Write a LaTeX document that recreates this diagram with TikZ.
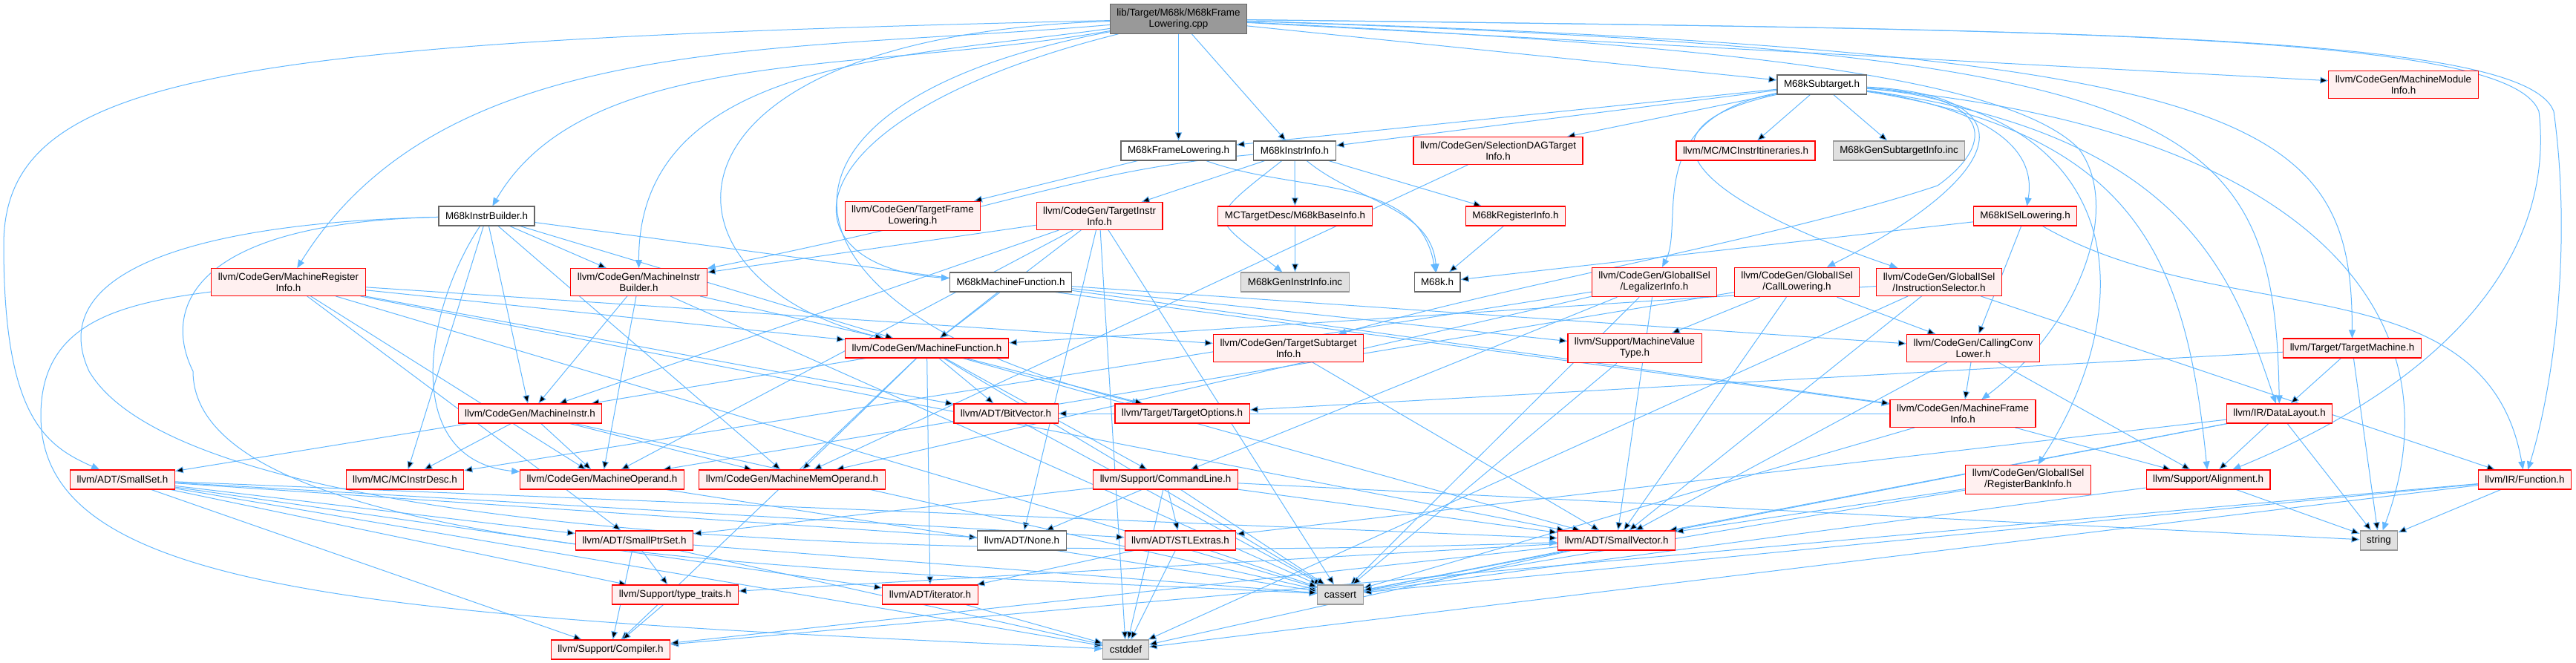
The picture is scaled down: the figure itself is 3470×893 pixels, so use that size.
\documentclass[tikz,border=0pt]{standalone}
\usepackage{fontspec}
\setsansfont{Liberation Sans}
\usetikzlibrary{arrows.meta,backgrounds}

\definecolor{edgeblue}{HTML}{63B8FF}
\definecolor{redfill}{HTML}{FFF0F0}
\definecolor{boxgray}{HTML}{666666}
\definecolor{incgray}{HTML}{999999}
\definecolor{incfill}{HTML}{E0E0E0}

\begin{document}
\begin{tikzpicture}[
    x=1pt, y=1pt,
    font=\sffamily\fontsize{13.4}{15}\selectfont,
    dep/.style={-{Triangle[length=11pt,width=9pt]}, line width=1pt, draw=edgeblue},
    filebox/.style={line width=1.1pt, align=center, inner xsep=9pt, inner ysep=6pt, minimum height=26pt},
    redbox/.style={filebox, draw=red, fill=redfill},
    whitebox/.style={filebox, draw=boxgray, fill=white},
    incbox/.style={filebox, draw=incgray, fill=incfill},
    rootbox/.style={filebox, draw=boxgray, fill=incgray}
]
\useasboundingbox (0,0) rectangle (3470,-893);

\node[rootbox] (root) at (1587.5,-25.5) {lib/Target/M68k/M68kFrame\\Lowering.cpp};

\node[whitebox] (subtarget) at (2454,-114) {M68kSubtarget.h};
\node[redbox] (mmInfo) at (3237.5,-114) {llvm/CodeGen/MachineModule\\Info.h};

\node[whitebox] (frameH) at (1587.5,-203) {M68kFrameLowering.h};
\node[whitebox] (instrInfo) at (1744,-203) {M68kInstrInfo.h};
\node[redbox] (sdagInfo) at (2018,-203) {llvm/CodeGen/SelectionDAGTarget\\Info.h};
\node[redbox] (itin) at (2351.5,-203) {llvm/MC/MCInstrItineraries.h};
\node[incbox] (genSub) at (2558,-203) {M68kGenSubtargetInfo.inc};

\node[whitebox] (instrBuilder) at (655.5,-291) {M68kInstrBuilder.h};
\node[redbox] (tFrameLow) at (1229.5,-291) {llvm/CodeGen/TargetFrame\\Lowering.h};
\node[redbox] (tInstrInfo) at (1481,-291) {llvm/CodeGen/TargetInstr\\Info.h};
\node[redbox] (baseInfo) at (1744.5,-291) {MCTargetDesc/M68kBaseInfo.h};
\node[redbox] (regInfo) at (2041.5,-291) {M68kRegisterInfo.h};
\node[redbox] (iselLow) at (2728,-291) {M68kISelLowering.h};

\node[redbox] (mRegInfo) at (388.5,-380) {llvm/CodeGen/MachineRegister\\Info.h};
\node[redbox] (miBuilder) at (860.5,-380) {llvm/CodeGen/MachineInstr\\Builder.h};
\node[whitebox] (m68kMF) at (1361.5,-380) {M68kMachineFunction.h};
\node[incbox] (genInstr) at (1744.5,-380) {M68kGenInstrInfo.inc};
\node[whitebox] (m68kH) at (1936,-380) {M68k.h};
\node[redbox] (legalizer) at (2228.5,-380) {llvm/CodeGen/GlobalISel\\/LegalizerInfo.h};
\node[redbox] (callLow) at (2420.5,-380) {llvm/CodeGen/GlobalISel\\/CallLowering.h};
\node[redbox] (instSel) at (2612,-380) {llvm/CodeGen/GlobalISel\\/InstructionSelector.h};

\node[redbox] (mFunction) at (1248.5,-469) {llvm/CodeGen/MachineFunction.h};
\node[redbox] (tSubtarget) at (1735.5,-469) {llvm/CodeGen/TargetSubtarget\\Info.h};
\node[redbox] (mvt) at (2202,-469) {llvm/Support/MachineValue\\Type.h};
\node[redbox] (ccLower) at (2658,-469) {llvm/CodeGen/CallingConv\\Lower.h};
\node[redbox] (tMachine) at (3168.5,-469) {llvm/Target/TargetMachine.h};

\node[redbox] (mInstr) at (714,-557) {llvm/CodeGen/MachineInstr.h};
\node[redbox] (bitVector) at (1355,-557) {llvm/ADT/BitVector.h};
\node[redbox] (tOptions) at (1592.5,-557) {llvm/Target/TargetOptions.h};
\node[redbox] (mFrameInfo) at (2644,-557) {llvm/CodeGen/MachineFrame\\Info.h};
\node[redbox] (dataLayout) at (3070.5,-557) {llvm/IR/DataLayout.h};

\node[redbox] (smallSet) at (165,-646) {llvm/ADT/SmallSet.h};
\node[redbox] (mcDesc) at (545.5,-646) {llvm/MC/MCInstrDesc.h};
\node[redbox] (mOperand) at (811,-646) {llvm/CodeGen/MachineOperand.h};
\node[redbox] (mMemOp) at (1067,-646) {llvm/CodeGen/MachineMemOperand.h};
\node[redbox] (cmdLine) at (1570,-646) {llvm/Support/CommandLine.h};
\node[redbox] (regBank) at (2732,-646) {llvm/CodeGen/GlobalISel\\/RegisterBankInfo.h};
\node[redbox] (alignment) at (2974.5,-646) {llvm/Support/Alignment.h};
\node[redbox] (function) at (3401,-646) {llvm/IR/Function.h};

\node[redbox] (smallPtrSet) at (854.5,-728) {llvm/ADT/SmallPtrSet.h};
\node[whitebox] (none) at (1376.5,-728) {llvm/ADT/None.h};
\node[redbox] (stlExtras) at (1590,-728) {llvm/ADT/STLExtras.h};
\node[redbox] (smallVector) at (2177.5,-728) {llvm/ADT/SmallVector.h};
\node[incbox] (string) at (3204.5,-728) {string};

\node[redbox] (typeTraits) at (909.5,-801) {llvm/Support/type\_traits.h};
\node[redbox] (iterator) at (1253,-801) {llvm/ADT/iterator.h};
\node[incbox] (cassert) at (1805.5,-801) {cassert};

\node[redbox] (compiler) at (822.5,-875) {llvm/Support/Compiler.h};
\node[incbox] (cstddef) at (1516.5,-875) {cstddef};

\begin{pgfonlayer}{background}
\draw[dep] (root) edge (frameH) edge (instrInfo) edge (subtarget) edge (mmInfo);
\draw[dep] (root) .. controls (1160,-100) and (790,-60) .. (instrBuilder);
\draw[dep] (root) .. controls (1050,-72) and (600,-40) .. (mRegInfo);
\draw[dep] (root) .. controls (1220,-77) and (860,-80) .. (miBuilder);
\draw[dep] (root) .. controls (1050,-160) and (1050,-360) .. (m68kMF);
\draw[dep] (root) .. controls (300,-55) and (5,-100) .. (5,-330) .. controls (5,-560) and (60,-600) .. (smallSet);
\draw[dep] (root) .. controls (850,-50) and (870,-380) .. (mFunction);
\draw[dep] (root) .. controls (980,-140) and (1020,-420) .. (tOptions);
\draw[dep] (root) .. controls (2300,-60) and (2700,-100) .. (2800,-200) .. controls (2860,-280) and (2800,-440) .. (mFrameInfo);
\draw[dep] (root) .. controls (2950,-70) and (3064,-150) .. (dataLayout);
\draw[dep] (root) .. controls (3050,-70) and (3168,-160) .. (tMachine);
\draw[dep] (root) .. controls (2800,-40) and (3400,-45) .. (3440,-150) .. controls (3465,-330) and (3440,-520) .. (function);
\draw[dep] (root) .. controls (2800,-40) and (3380,-45) .. (3420,-150) .. controls (3440,-320) and (3330,-500) .. (alignment);

\draw[dep] (subtarget) edge (frameH) edge (instrInfo) edge (sdagInfo) edge (itin) edge (genSub);
\draw[dep] (subtarget) .. controls (2617,-137) and (2748,-175) .. (iselLow);
\draw[dep] (subtarget) .. controls (2210,-160) and (2270,-300) .. (legalizer);
\draw[dep] (subtarget) .. controls (2200,-170) and (2260,-260) .. (instSel);
\draw[dep] (subtarget) .. controls (2760,-130) and (2680,-250) .. (callLow);
\draw[dep] (subtarget) .. controls (2700,-130) and (2680,-200) .. (2610,-250) .. controls (2400,-320) and (2050,-380) .. (tSubtarget);
\draw[dep] (subtarget) .. controls (2880,-150) and (2880,-420) .. (regBank);
\draw[dep] (subtarget) .. controls (2950,-180) and (3010,-380) .. (dataLayout);
\draw[dep] (subtarget) .. controls (2880,-180) and (2945,-350) .. (alignment);
\draw[dep] (subtarget) .. controls (3100,-170) and (3320,-420) .. (string);

\draw[dep] (frameH) edge (tFrameLow);
\draw[dep] (frameH) .. controls (1750,-262) and (1910,-234) .. (m68kH);
\draw[dep] (instrInfo) edge (baseInfo) edge (regInfo) edge (tInstrInfo);
\draw[dep] (instrInfo) .. controls (1827,-272) and (1928,-279) .. (m68kH);
\draw[dep] (instrInfo) .. controls (1620,-300) and (1630,-290) .. (genInstr);
\draw[dep] (instrInfo) .. controls (1450,-230) and (1360,-280) .. (miBuilder);
\draw[dep] (baseInfo) edge (genInstr);
\draw[dep] (regInfo) edge (m68kH);
\draw[dep] (iselLow) edge (m68kH) edge (ccLower);
\draw[dep] (iselLow) .. controls (2997,-446) and (3349,-352) .. (function);

\draw[dep] (instrBuilder) edge (miBuilder) edge (mInstr) edge (mcDesc) edge (mMemOp) edge (mFunction) edge (mFrameInfo);
\draw[dep] (instrBuilder) .. controls (570,-420) and (540,-620) .. (mOperand);
\draw[dep] (instrBuilder) .. controls (250,-300) and (60,-370) .. (120,-500) .. controls (250,-720) and (1200,-760) .. (smallVector);
\draw[dep] (instrBuilder) .. controls (250,-300) and (220,-420) .. (260,-500) .. controls (260,-760) and (1200,-770) .. (cassert);

\draw[dep] (mRegInfo) edge (bitVector) edge (smallPtrSet) edge (smallVector) edge (mFunction) edge (mOperand) edge (tSubtarget) edge (cassert);
\draw[dep] (mRegInfo) .. controls (150,-410) and (55,-440) .. (55,-560) .. controls (55,-800) and (500,-830) .. (cstddef);
\draw[dep] (miBuilder) edge (mFunction) edge (mInstr) edge (mOperand) edge (cassert);
\draw[dep] (tInstrInfo) edge (miBuilder) edge (mFunction) edge (mInstr) edge (mOperand) edge (none) edge (cassert) edge (cstddef);
\draw[dep] (m68kMF) edge (mFunction) edge (mvt) edge (ccLower) edge (mFrameInfo);
\draw[dep] (sdagInfo) edge (mMemOp);
\draw[dep] (legalizer) edge (mcDesc) edge (mMemOp) edge (cmdLine) edge (smallVector) edge (cassert);
\draw[dep] (callLow) edge (mOperand) edge (mvt) edge (smallVector) edge (ccLower);
\draw[dep] (instSel) edge (mFunction) edge (smallVector) edge (function) edge (cstddef);

\draw[dep] (mFunction) edge (mInstr) edge (mMemOp) edge (bitVector) edge (tOptions) edge (cmdLine) edge (iterator) edge (smallVector) edge (cassert) edge (compiler);
\draw[dep] (tSubtarget) edge (smallVector);
\draw[dep] (mvt) edge (cassert);
\draw[dep] (ccLower) edge (mFrameInfo) edge (alignment) edge (smallVector);
\draw[dep] (tMachine) edge (tOptions) edge (dataLayout) edge (string);

\draw[dep] (mInstr) edge (smallSet) edge (mcDesc) edge (mOperand) edge (mMemOp) edge (cassert);
\draw[dep] (bitVector) edge (cassert);
\draw[dep] (mFrameInfo) edge (bitVector) edge (alignment) edge (cassert);
\draw[dep] (dataLayout) edge (stlExtras) edge (smallVector) edge (alignment) edge (cassert) edge (string);

\draw[dep] (smallSet) edge (none) edge (smallPtrSet) edge (smallVector) edge (stlExtras) edge (iterator) edge (compiler) edge (typeTraits) edge (cstddef);
\draw[dep] (mOperand) edge (cassert);
\draw[dep] (cmdLine) edge (none) edge (stlExtras) edge (smallPtrSet) edge (smallVector) edge (cassert) edge (cstddef) edge (string);
\draw[dep] (regBank) edge (smallVector) edge (cassert);
\draw[dep] (alignment) edge (cassert) edge (string);
\draw[dep] (function) edge (compiler) edge (cassert) edge (cstddef) edge (string);

\draw[dep] (smallPtrSet) edge (compiler) edge (typeTraits) edge (cassert) edge (cstddef);
\draw[dep] (stlExtras) edge (iterator) edge (cassert) edge (cstddef);
\draw[dep] (smallVector) edge (compiler) edge (typeTraits) edge (cassert) edge (cstddef);
\draw[dep] (typeTraits) edge (compiler);
\draw[dep] (iterator) edge (cstddef);
\end{pgfonlayer}

\end{tikzpicture}
\end{document}
